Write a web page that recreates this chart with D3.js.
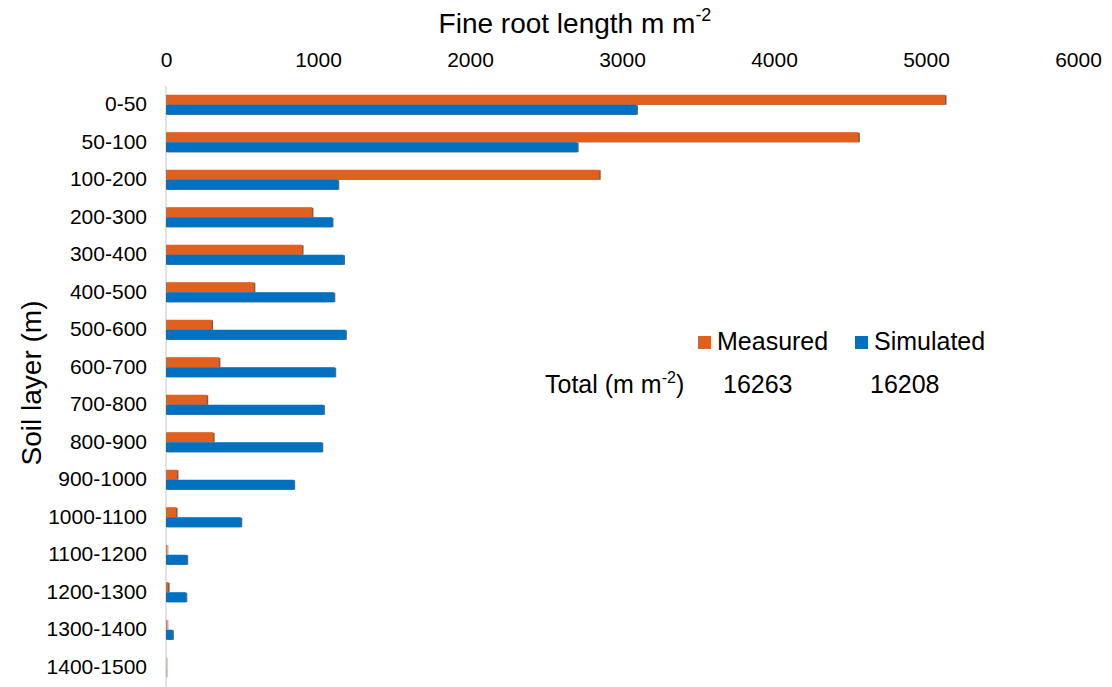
<!DOCTYPE html>
<html>
<head>
<meta charset="utf-8">
<script src="https://cdn.jsdelivr.net/npm/d3@7"></script>
<style>
  body { margin: 0; background: #fff; }
  svg text { font-family: "Liberation Sans", Arial, sans-serif; }
</style>
</head>
<body>
<svg id="chart" width="1112" height="687"></svg>
<script>
'use strict';

// soil layers, top to bottom
const layers = ["0-50", "50-100", "100-200", "200-300", "300-400", "400-500", "500-600",
	"600-700", "700-800", "800-900", "900-1000", "1000-1100", "1100-1200", "1200-1300",
	"1300-1400", "1400-1500"];

const measured = [5125, 4555, 2850, 960, 895, 578, 300, 348, 268, 310, 72, 66, 5, 14, 5, 2];
const simulated = [3095, 2705, 1130, 1092, 1168, 1104, 1180, 1110, 1036, 1025, 840, 492, 136, 130, 42, 2];

const seriesNames = ["Measured", "Simulated"];
const seriesColors = ["#E0601F", "#0070C0"];
const totals = ["16263", "16208"];
const xTicks = [0, 1000, 2000, 3000, 4000, 5000, 6000];

let svg = d3.select("#chart");

let x = d3.scaleLinear()
	.domain([0, 6000])
	.range([166, 1078]);

let y = d3.scaleBand()
	.domain(layers)
	.range([86, 686])
	.paddingInner(0.467)
	.paddingOuter(0.2335);

let y1 = d3.scaleBand()
	.domain(seriesNames)
	.range([0, y.bandwidth()]);

let color = d3.scaleOrdinal().domain(seriesNames).range(seriesColors);

let data = layers.map(function (l, i) {
	return {layer: l, values: [
		{name: "Measured", value: measured[i]},
		{name: "Simulated", value: simulated[i]}
	]};
});

// x axis on top
let xAxis = svg.append("g")
	.attr("transform", "translate(0,60)")
	.call(d3.axisTop(x).tickValues(xTicks).tickFormat(d3.format("d")).tickSize(0).tickPadding(0));
xAxis.select(".domain").remove();
xAxis.selectAll("text")
	.attr("font-size", 21)
	.attr("fill", "#000")
	.attr("dy", "0.35em");

// y axis
let yAxis = svg.append("g")
	.attr("transform", "translate(166,0)")
	.call(d3.axisLeft(y).tickSize(0).tickSizeOuter(0).tickPadding(19));
yAxis.select(".domain").remove();
yAxis.selectAll("text")
	.attr("font-size", 21)
	.attr("fill", "#000");

svg.append("line")
	.attr("x1", x(0)).attr("x2", x(0))
	.attr("y1", 86).attr("y2", 687)
	.attr("stroke", "#d9d9d9")
	.attr("stroke-width", 1.5);

// bars
let groups = svg.append("g").selectAll("g")
	.data(data)
	.enter().append("g")
	.attr("transform", function (d) { return "translate(0," + y(d.layer) + ")"; });

// dark right edge shadow
groups.selectAll(".shadow")
	.data(function (d) { return d.values; })
	.enter().append("rect")
	.attr("class", "shadow")
	.attr("x", x(0) + 1.5)
	.attr("y", function (d) { return y1(d.name) + 0.5; })
	.attr("width", function (d) { return x(d.value) - x(0); })
	.attr("height", y1.bandwidth() - 0.5)
	.attr("fill", "#4a4a4a")
	.attr("opacity", 0.85);

groups.selectAll(".bar")
	.data(function (d) { return d.values; })
	.enter().append("rect")
	.attr("class", "bar")
	.attr("x", x(0))
	.attr("y", function (d) { return y1(d.name); })
	.attr("width", function (d) { return x(d.value) - x(0); })
	.attr("height", y1.bandwidth())
	.attr("fill", function (d) { return color(d.name); });

// titles
let title = svg.append("text")
	.attr("x", 575)
	.attr("y", 33)
	.attr("text-anchor", "middle")
	.attr("font-size", 28)
	.attr("fill", "#000");
title.append("tspan").text("Fine root length m m");
title.append("tspan").attr("font-size", 18).attr("dy", -12).text("-2");

svg.append("text")
	.attr("transform", "translate(41,383) rotate(-90)")
	.attr("text-anchor", "middle")
	.attr("font-size", 28)
	.attr("fill", "#000")
	.text("Soil layer (m)");

// legend
let legendX = [698, 855];
seriesNames.forEach(function (name, i) {
	svg.append("rect")
		.attr("x", legendX[i])
		.attr("y", 336)
		.attr("width", 13)
		.attr("height", 13)
		.attr("fill", color(name));
	svg.append("text")
		.attr("x", legendX[i] + 19)
		.attr("y", 350)
		.attr("font-size", 25)
		.attr("fill", "#000")
		.text(name);
});

let totalLabel = svg.append("text")
	.attr("x", 545)
	.attr("y", 393)
	.attr("font-size", 25)
	.attr("fill", "#000");
totalLabel.append("tspan").text("Total (m m");
totalLabel.append("tspan").attr("font-size", 16).attr("dy", -10).text("-2");
totalLabel.append("tspan").attr("dy", 10).text(")");

let totalX = [723, 870];
totals.forEach(function (t, i) {
	svg.append("text")
		.attr("x", totalX[i])
		.attr("y", 393)
		.attr("font-size", 25)
		.attr("fill", "#000")
		.text(t);
});
</script>
</body>
</html>
